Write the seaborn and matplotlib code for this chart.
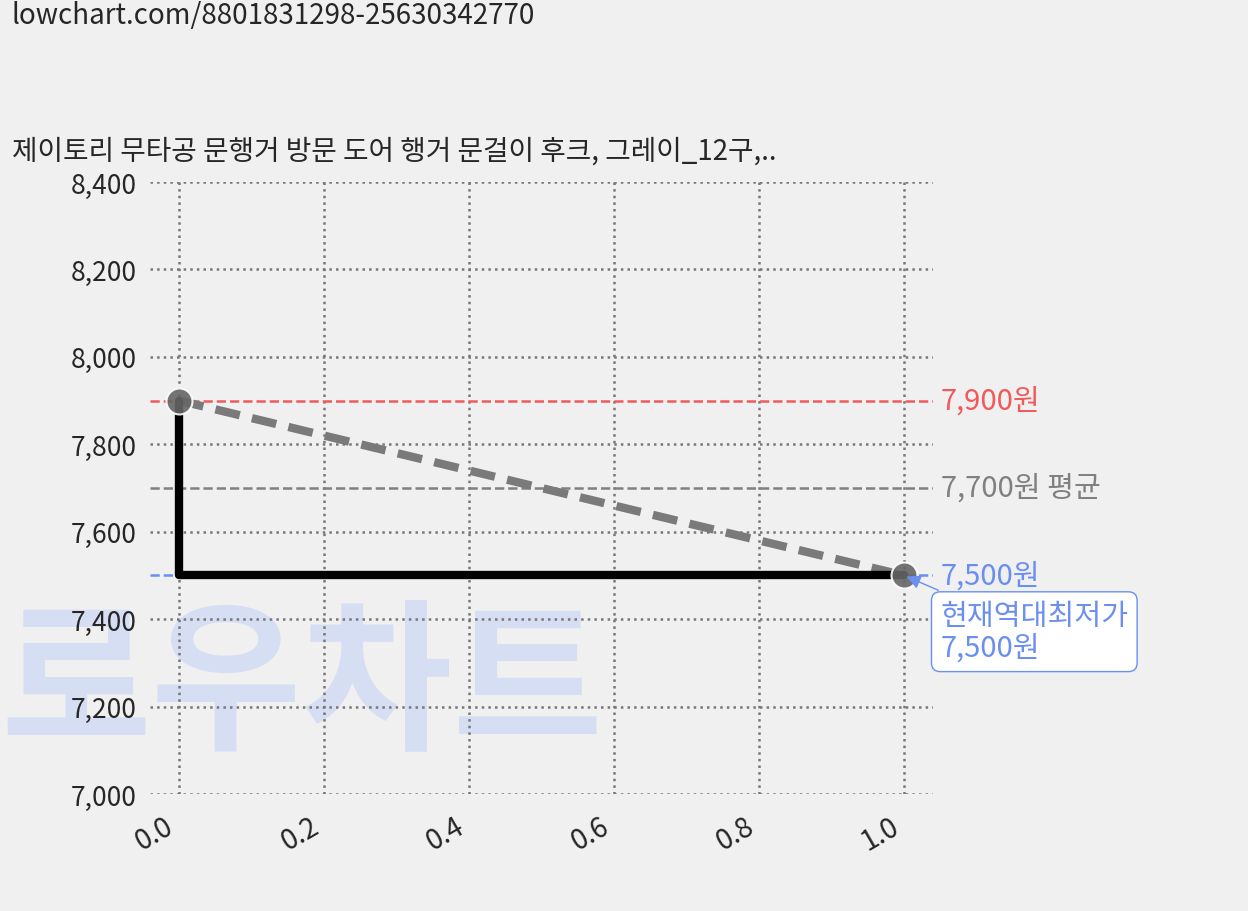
import matplotlib
matplotlib.use("Agg")
import matplotlib.pyplot as plt
import seaborn as sns
import pandas as pd

sns.set_theme(style="white")
plt.rcParams['font.family'] = ['Noto Sans CJK KR', 'DejaVu Sans']

x_vals = [0.0, 1.0]
prices = [7900, 7500]
max_price = 7900
avg_price = 7700
min_price = 7500
title = "제이토리 무타공 문행거 방문 도어 행거 문걸이 후크, 그레이_12구,.."
url = "lowchart.com/8801831298-25630342770"

fig = plt.figure(figsize=(12.48, 9.12), dpi=100, facecolor="#f0f0f0")
ax = fig.add_axes([150/1248, 1-795/912, (933-150)/1248, (795-183)/912])
ax.patch.set_alpha(0)

fig.text(12/1248, 1-16/912, url, fontsize=20, va="center", ha="left")
fig.text(12/1248, 1-152/912, title, fontsize=20, va="center", ha="left")
wm = fig.text(0.0, 1-688/912, "로우차트", fontsize=118, color="#d5def2", fontweight="heavy",
              style="italic", va="center", ha="left", zorder=-5)

df = pd.DataFrame({"x": x_vals, "price": prices})
sns.lineplot(data=df, x="x", y="price", ax=ax, color="#7a7a7a", lw=6,
             linestyle=(0, (3, 1.5)), zorder=3)
ax.plot([x_vals[0], x_vals[0], x_vals[1]], [prices[0], prices[1], prices[1]],
        color="black", lw=6, zorder=4)
sns.scatterplot(data=df, x="x", y="price", ax=ax, s=350, color="#666666",
                alpha=0.9, zorder=5, legend=False)

ax.axhline(max_price, color="#f05a5a", ls="--", lw=1.8, zorder=2)
ax.axhline(avg_price, color="#808080", ls="--", lw=1.8, zorder=2)
ax.axhline(min_price, color="#6b8ff0", ls="--", lw=1.8, zorder=2)
tr = ax.get_yaxis_transform()
ax.text(1.01, max_price, f"{max_price:,}원", color="#f05a5a", fontsize=21, va="center", transform=tr)
ax.text(1.01, avg_price, f"{avg_price:,}원 평균", color="#808080", fontsize=21, va="center", transform=tr)
ax.text(1.01, min_price, f"{min_price:,}원", color="#6b8ff0", fontsize=21, va="center", transform=tr)
ax.annotate(f"현재역대최저가\n{min_price:,}원", xy=(1.0, min_price), xytext=(1.05, 7300),
            fontsize=21, color="#6b8ff0", ha="left", va="bottom", linespacing=1.1,
            bbox=dict(boxstyle="round,pad=0.3", fc="white", ec="#6b8ff0"),
            arrowprops=dict(arrowstyle="-|>", color="#6b8ff0"), zorder=6)

ax.set_xlim(-0.04, 1.04)
ax.set_ylim(7000, 8400)
ax.set_xticks([0, 0.2, 0.4, 0.6, 0.8, 1.0])
ax.set_yticks(range(7000, 8401, 200))
ax.yaxis.set_major_formatter(matplotlib.ticker.FuncFormatter(lambda v, p: f"{int(v):,}"))
ax.xaxis.set_major_formatter(matplotlib.ticker.FuncFormatter(lambda v, p: f"{v:.1f}"))
ax.tick_params(axis="x", labelsize=20, rotation=30, pad=6)
ax.tick_params(axis="y", labelsize=19)
for lab in ax.get_xticklabels():
    lab.set_ha("right")
ax.grid(True, ls=":", color="#777777", lw=1.8)
ax.set_xlabel("")
ax.set_ylabel("")
for s in ax.spines.values():
    s.set_visible(False)
fig.savefig("out.png", dpi=100, facecolor=fig.get_facecolor())
